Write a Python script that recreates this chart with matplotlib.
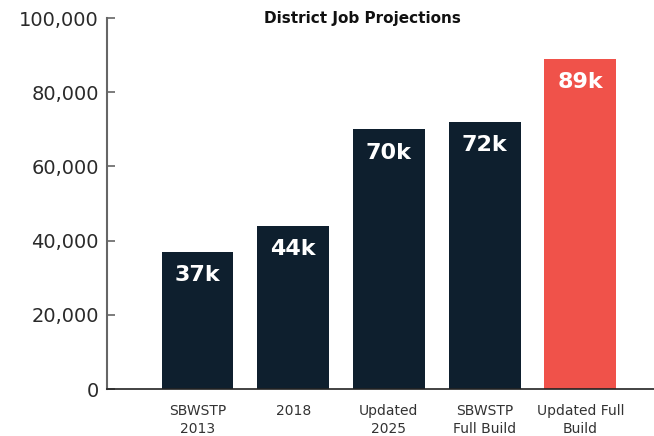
import numpy as np
import matplotlib.pyplot as plt

categories = ["SBWSTP\n2013", "2018", "Updated\n2025", "SBWSTP\nFull Build", "Updated Full\nBuild"]
jobs = [37000, 44000, 70000, 72000, 89000]
labels = ["37k", "44k", "70k", "72k", "89k"]
colors = ["#0e1f2e", "#0e1f2e", "#0e1f2e", "#0e1f2e", "#f0524a"]

plt.rcParams['font.family'] = ['DejaVu Sans']

fig = plt.figure(figsize=(6.54, 4.36), dpi=100)
ax = fig.add_axes([107/654, 1 - 389/436, 1 - 107/654, (389 - 18)/436])

x = np.arange(len(categories))
bars = ax.bar(x, jobs, width=0.75, color=colors)

for b, lab in zip(bars, labels):
    ax.annotate(lab, (b.get_x() + b.get_width()/2, b.get_height()),
                xytext=(0, -17), textcoords='offset points',
                ha='center', va='center', color='white',
                fontsize=16, fontweight='bold')

ax.set_xlim(-0.946, 4.77)
ax.set_ylim(0, 100000)
ax.set_yticks(np.arange(0, 100001, 20000))
ax.set_yticklabels([f"{v:,}" for v in range(0, 100001, 20000)])
ax.set_xticks(x)
ax.set_xticklabels(categories, fontsize=10, color='#333333', linespacing=1.3)

ax.tick_params(axis='y', direction='in', length=6, width=1.2, color='#666666',
               labelsize=14, labelcolor='#2a2a2a', pad=6)
ax.tick_params(axis='x', length=0, pad=11)

for s in ['top', 'right']:
    ax.spines[s].set_visible(False)
ax.spines['left'].set_color('#666666')
ax.spines['left'].set_linewidth(1.5)
ax.spines['bottom'].set_color('#222222')
ax.spines['bottom'].set_linewidth(1.2)

fig.text(362/654, 1 - 18/436, "District Job Projections", ha='center', va='center',
         fontsize=11, fontweight='bold', color='#111111')

fig.savefig("out.png", dpi=100)
